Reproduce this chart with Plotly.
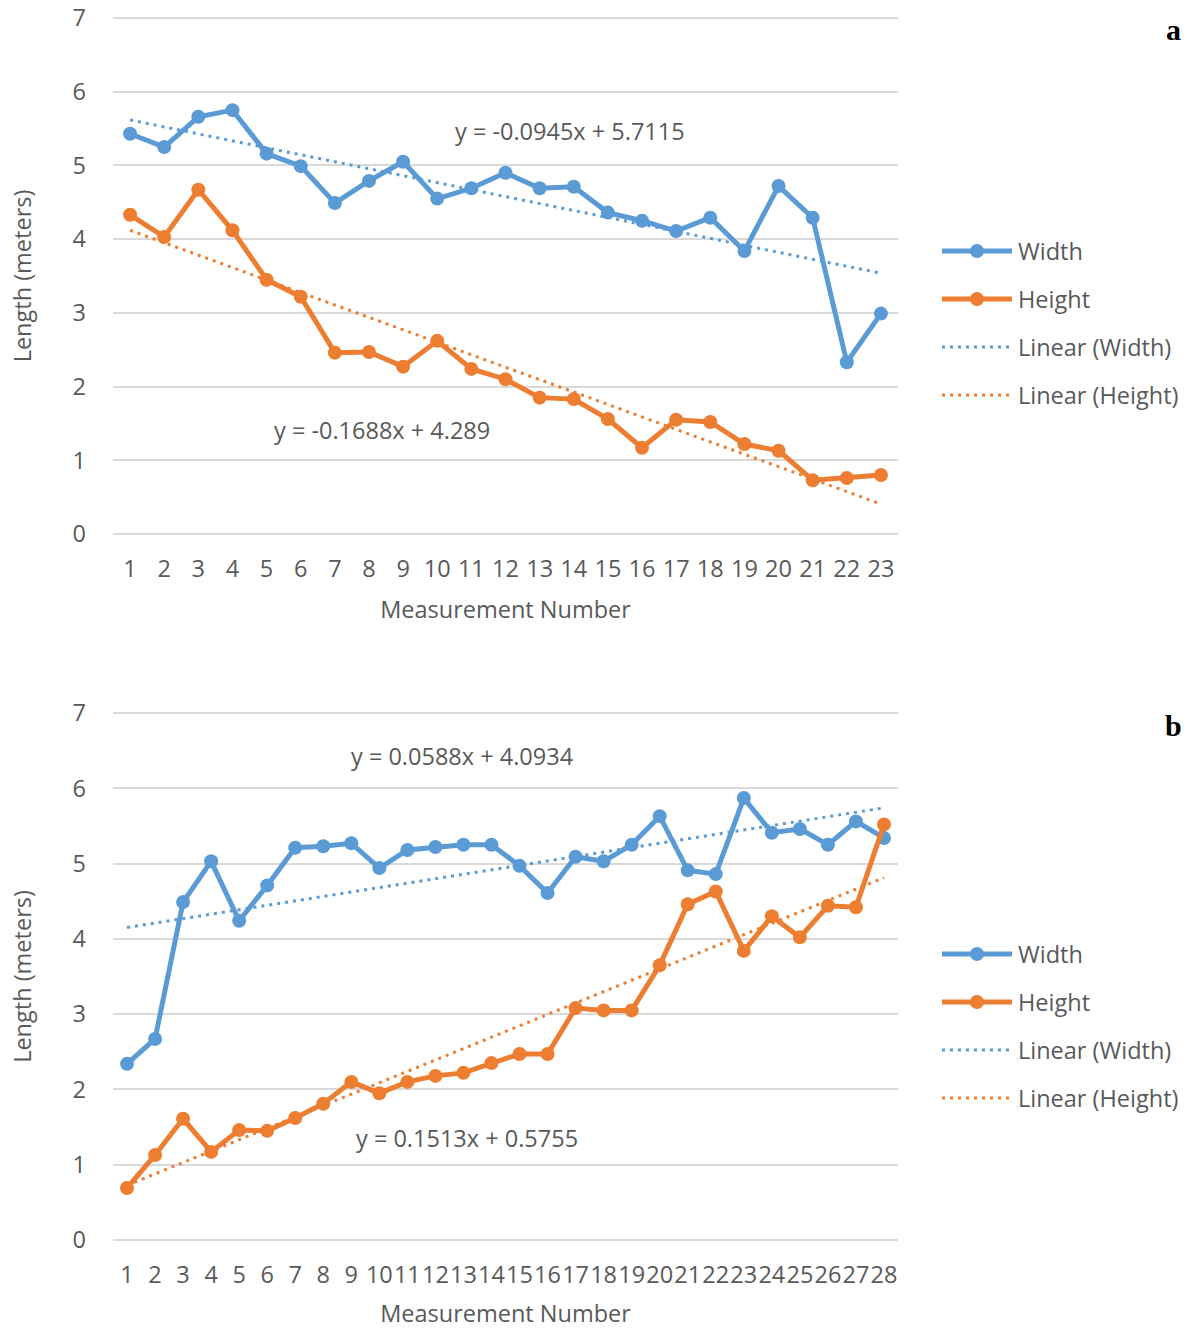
import plotly.graph_objects as go

# ---- data -------------------------------------------------------------
meas_a = list(range(1, 24))
width_a = [5.43, 5.25, 5.66, 5.75, 5.16, 4.99, 4.49, 4.79, 5.05, 4.55, 4.69, 4.90,
           4.69, 4.71, 4.36, 4.25, 4.11, 4.29, 3.84, 4.72, 4.29, 2.33, 2.99]
height_a = [4.33, 4.03, 4.67, 4.12, 3.45, 3.22, 2.46, 2.47, 2.27, 2.62, 2.24, 2.10,
            1.85, 1.83, 1.56, 1.17, 1.55, 1.52, 1.22, 1.13, 0.73, 0.76, 0.80]

meas_b = list(range(1, 29))
width_b = [2.34, 2.67, 4.49, 5.03, 4.24, 4.71, 5.21, 5.23, 5.27, 4.94, 5.18, 5.22,
           5.25, 5.25, 4.97, 4.61, 5.09, 5.03, 5.25, 5.63, 4.91, 4.86, 5.87, 5.41,
           5.46, 5.25, 5.56, 5.34]
height_b = [0.69, 1.13, 1.61, 1.17, 1.46, 1.45, 1.62, 1.81, 2.10, 1.95, 2.10, 2.18,
            2.22, 2.35, 2.47, 2.47, 3.08, 3.05, 3.05, 3.65, 4.46, 4.63, 3.84, 4.30,
            4.02, 4.44, 4.42, 5.52]

# linear trend coefficients (slope, intercept)
trend_width_a = (-0.0945, 5.7115)
trend_height_a = (-0.1688, 4.289)
trend_width_b = (0.0588, 4.0934)
trend_height_b = (0.1513, 0.5755)

y_ticks = [0, 1, 2, 3, 4, 5, 6, 7]
legend_names = ["Width", "Height", "Linear (Width)", "Linear (Height)"]
panel_letters = ["a", "b"]

# ---- style ------------------------------------------------------------
W, H = 1187, 1329
BLUE = "#5B9BD5"
ORANGE = "#ED7D31"
TEXT = "#595959"
GRID = "#D9D9D9"
FONT = "Open Sans"
FS = 23.5
DOT = "3px,5px"
PAD = 0.03  # small y-range padding so the 0 and 7 gridlines stay visible


def eq_text(coef):
    slope, icpt = coef
    sign = "+" if icpt >= 0 else "-"
    return f"y = {slope:g}x {sign} {abs(icpt):g}"


def px(xp):
    return xp / W


def py(yp):
    return 1 - yp / H


fig = go.Figure()

panels = [
    dict(x=meas_a, w=width_a, h=height_a, tw=trend_width_a, th=trend_height_a,
         xa="x", ya="y", dom=(18, 534),
         eq_w=(13.9, 5.47), eq_h=(8.38, 1.41), legend_y=[251, 299, 347, 395],
         letter_y=30),
    dict(x=meas_b, w=width_b, h=height_b, tw=trend_width_b, th=trend_height_b,
         xa="x2", ya="y2", dom=(713, 1240),
         eq_w=(12.95, 6.43), eq_h=(13.12, 1.35), legend_y=[954, 1002, 1050, 1098],
         letter_y=725),
]

annotations = []
shapes = []

for i, p in enumerate(panels):
    xs = p["x"]
    ends = [xs[0], xs[-1]]
    for coef, color, name in ((p["tw"], BLUE, "Linear (Width)"),
                              (p["th"], ORANGE, "Linear (Height)")):
        fig.add_trace(go.Scatter(
            x=ends, y=[coef[0] * e + coef[1] for e in ends], mode="lines",
            line=dict(color=color, width=3, dash=DOT), name=name,
            showlegend=False, xaxis=p["xa"], yaxis=p["ya"], hoverinfo="skip"))
    for vals, color, name in ((p["w"], BLUE, "Width"), (p["h"], ORANGE, "Height")):
        fig.add_trace(go.Scatter(
            x=xs, y=vals, mode="lines+markers", name=name,
            line=dict(color=color, width=5),
            marker=dict(color=color, size=14),
            showlegend=False, xaxis=p["xa"], yaxis=p["ya"]))

    # trend equations
    for pos, coef in ((p["eq_w"], p["tw"]), (p["eq_h"], p["th"])):
        annotations.append(dict(
            x=pos[0], y=pos[1], xref=p["xa"], yref=p["ya"], text=eq_text(coef),
            xanchor="center", yanchor="middle",
            showarrow=False, font=dict(family=FONT, size=FS, color=TEXT)))

    # legend block
    styles = [(BLUE, "solid"), (ORANGE, "solid"), (BLUE, "dot"), (ORANGE, "dot")]
    for name, (color, kind), ly in zip(legend_names, styles, p["legend_y"]):
        if kind == "solid":
            shapes.append(dict(type="line", xref="paper", yref="paper",
                               x0=px(942), x1=px(1012), y0=py(ly), y1=py(ly),
                               line=dict(color=color, width=5)))
            shapes.append(dict(type="circle", xref="paper", yref="paper",
                               x0=px(977 - 7), x1=px(977 + 7),
                               y0=py(ly + 7), y1=py(ly - 7),
                               fillcolor=color, line=dict(color=color, width=0)))
        else:
            shapes.append(dict(type="line", xref="paper", yref="paper",
                               x0=px(942), x1=px(1012), y0=py(ly), y1=py(ly),
                               line=dict(color=color, width=3, dash=DOT)))
        annotations.append(dict(
            x=px(1016), y=py(ly), xref="paper", yref="paper", text=name,
            xanchor="left", yanchor="middle", showarrow=False,
            font=dict(family=FONT, size=FS, color=TEXT)))

    annotations.append(dict(
        x=px(1173), y=py(p["letter_y"]), xref="paper", yref="paper",
        text=f"<b>{panel_letters[i]}</b>", showarrow=False,
        xanchor="center", yanchor="middle",
        font=dict(family="Liberation Serif", size=30, color="black")))

x_dom = [px(113), px(898)]


def y_domain(top, bottom):
    # widen the pixel span to account for the range padding
    ppu = (bottom - top) / 7.0
    return [py(bottom + PAD * ppu), py(top - PAD * ppu)]


axis_common_y = dict(
    range=[-PAD, 7 + PAD], tickvals=y_ticks, showgrid=True, gridcolor=GRID,
    gridwidth=1.5, zeroline=False, showline=False, ticks="", ticklabelstandoff=26,
    automargin=False,
    tickfont=dict(family=FONT, size=FS, color=TEXT),
    title=dict(text="Length (meters)", standoff=34,
               font=dict(family=FONT, size=FS, color=TEXT)),
    fixedrange=True)

axis_common_x = dict(
    showgrid=False, zeroline=False, showline=False, ticks="", tickangle=0,
    automargin=False,
    ticklabelstandoff=16, tickfont=dict(family=FONT, size=FS, color=TEXT),
    title=dict(text="Measurement Number", standoff=18,
               font=dict(family=FONT, size=FS, color=TEXT)),
    fixedrange=True)

fig.update_layout(
    width=W, height=H,
    margin=dict(l=0, r=0, t=0, b=0),
    paper_bgcolor="white", plot_bgcolor="white",
    showlegend=False,
    xaxis=dict(axis_common_x, domain=x_dom, anchor="y", range=[0.5, len(meas_a) + 0.5],
               tickvals=meas_a),
    yaxis=dict(axis_common_y, domain=y_domain(*panels[0]["dom"]), anchor="x"),
    xaxis2=dict(axis_common_x, domain=x_dom, anchor="y2", range=[0.5, len(meas_b) + 0.5],
                tickvals=meas_b),
    yaxis2=dict(axis_common_y, domain=y_domain(*panels[1]["dom"]), anchor="x2"),
    annotations=annotations,
    shapes=shapes,
)

fig.write_html("out.html")
